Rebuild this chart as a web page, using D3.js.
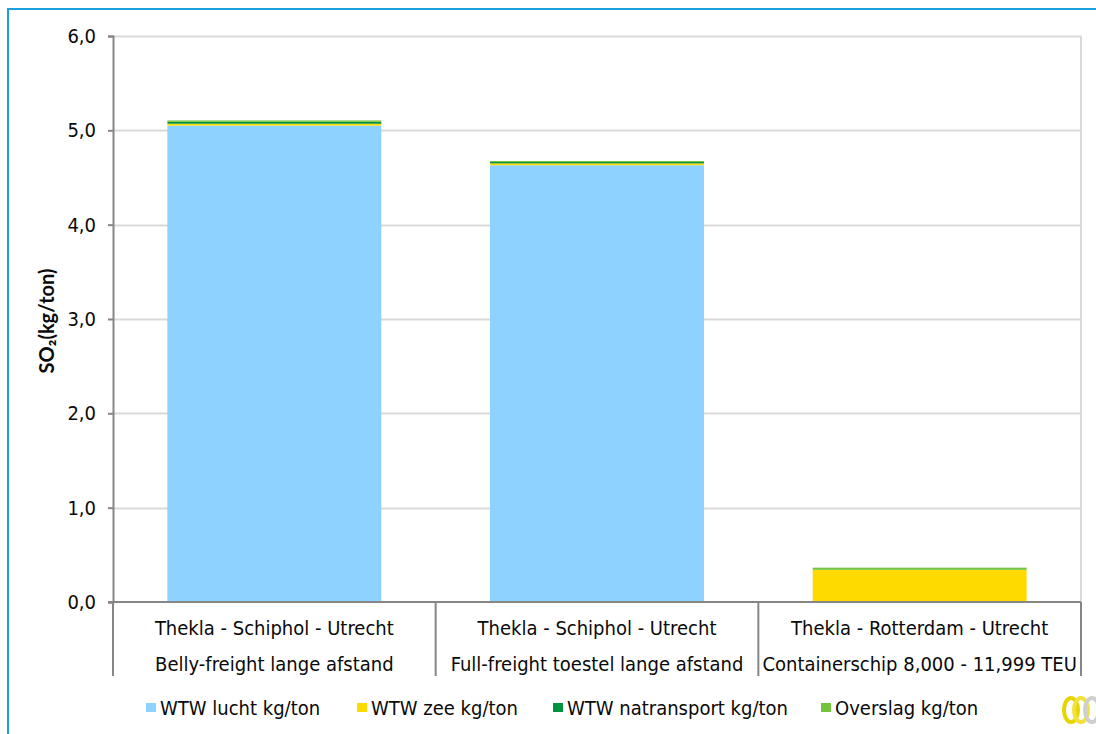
<!DOCTYPE html>
<html>
<head>
<meta charset="utf-8">
<script src="https://cdn.jsdelivr.net/npm/d3@7"></script>
<style>
  html, body { margin: 0; padding: 0; background: #fff; }
  svg { display: block; }
  .lbl { font-family: "DejaVu Sans Condensed", "DejaVu Sans", sans-serif; fill: #0a0a0a; }
</style>
</head>
<body>
<svg id="chart" width="1096" height="734"></svg>
<script>
// Categories (two-level axis: route on top, vehicle below)
const routes = ["Thekla - Schiphol - Utrecht", "Thekla - Schiphol - Utrecht", "Thekla - Rotterdam - Utrecht"];
const vehicles = ["Belly-freight lange afstand", "Full-freight toestel lange afstand", "Containerschip 8,000 - 11,999 TEU"];

// Stacked series (kg SO2 per ton)
const seriesNames = ["WTW lucht kg/ton", "WTW zee kg/ton", "WTW natransport kg/ton", "Overslag kg/ton"];
const luchtValues = [5.05, 4.63, 0.0];
const zeeValues = [0.02, 0.02, 0.34];
const natransportValues = [0.02, 0.015, 0.004];
const overslagValues = [0.015, 0.01, 0.02];

const yTicks = [0, 1, 2, 3, 4, 5, 6];

const colors = ["#8ed2ff", "#ffda00", "#00923f", "#74c43c"];

const svg = d3.select("#chart");
const W = 1096, H = 734;
const plotLeft = 113, plotRight = 1081, plotTop = 36, plotBottom = 602;

// Outer frame
svg.append("rect").attr("x", 8).attr("y", 9).attr("width", W + 20).attr("height", H + 20)
  .attr("fill", "none").attr("stroke", "#1ea0e0").attr("stroke-width", 2);

const rows = vehicles.map((v, i) => ({
  key: v,
  route: routes[i],
  vals: [luchtValues[i], zeeValues[i], natransportValues[i], overslagValues[i]]
}));

const x = d3.scaleBand().domain(vehicles).range([plotLeft, plotRight])
  .paddingInner(0.337).paddingOuter(0.337 / 2);
const y = d3.scaleLinear().domain([0, 6]).range([plotBottom, plotTop]);

const locale = d3.formatLocale({ decimal: ",", thousands: ".", grouping: [3], currency: ["€", ""] });
const fmt = locale.format(".1f");

// Gridlines
svg.append("g").selectAll("line").data(yTicks.filter(t => t > 0)).join("line")
  .attr("x1", plotLeft).attr("x2", plotRight)
  .attr("y1", d => Math.round(y(d)) + 0.5).attr("y2", d => Math.round(y(d)) + 0.5)
  .attr("stroke", "#d9d9d9").attr("stroke-width", 2);
// Right border of plot area
svg.append("line").attr("x1", plotRight).attr("x2", plotRight).attr("y1", y(6)).attr("y2", plotBottom)
  .attr("stroke", "#d9d9d9").attr("stroke-width", 2);

// Stacked bars
const stack = d3.stack().keys([0, 1, 2, 3]).value((d, k) => d.vals[k]);
const layers = stack(rows);
svg.append("g").selectAll("g").data(layers).join("g")
  .attr("fill", (d, i) => colors[i])
  .selectAll("rect").data(d => d).join("rect")
  .attr("x", d => x(d.data.key))
  .attr("width", x.bandwidth())
  .attr("y", d => y(d[1]))
  .attr("height", d => Math.max(0, y(d[0]) - y(d[1])));

// Y axis
const yAxis = d3.axisLeft(y).tickValues(yTicks).tickFormat(fmt).tickSize(5).tickPadding(12);
const gy = svg.append("g").attr("transform", `translate(${plotLeft},0)`).call(yAxis);
gy.select(".domain").attr("stroke", "#868686").attr("stroke-width", 2);
gy.selectAll(".tick line").attr("stroke", "#868686").attr("stroke-width", 2);
gy.selectAll(".tick text").attr("class", "lbl").style("font-size", "20px").attr("fill", "#0a0a0a");

// Category axis line and separators
svg.append("line").attr("x1", plotLeft - 5).attr("x2", plotRight).attr("y1", plotBottom).attr("y2", plotBottom)
  .attr("stroke", "#868686").attr("stroke-width", 2);
const step = x.step();
const seps = d3.range(vehicles.length + 1).map(i => plotLeft + i * step);
svg.append("g").selectAll("line").data(seps).join("line")
  .attr("x1", d => d).attr("x2", d => d).attr("y1", plotBottom).attr("y2", 676)
  .attr("stroke", "#868686").attr("stroke-width", 2);

const catG = svg.append("g").selectAll("g").data(rows).join("g")
  .attr("transform", d => `translate(${x(d.key) + x.bandwidth() / 2},0)`);
catG.append("text").attr("class", "lbl").attr("y", 635).attr("text-anchor", "middle")
  .style("font-size", "20px").text(d => d.route);
catG.append("text").attr("class", "lbl").attr("y", 671).attr("text-anchor", "middle")
  .style("font-size", "20px").text(d => d.key);

// Y axis title
svg.append("text")
  .attr("transform", "translate(54,321) rotate(-90)")
  .attr("text-anchor", "middle")
  .style("font-family", "Lato, 'Open Sans', sans-serif")
  .style("font-weight", "bold").style("font-size", "20px").attr("fill", "#0a0a0a")
  .text("SO₂(kg/ton)");

// Legend
const legendX = [146, 357, 553, 821];
const lg = svg.append("g").selectAll("g").data(seriesNames).join("g")
  .attr("transform", (d, i) => `translate(${legendX[i]},703)`);
lg.append("rect").attr("width", 10).attr("height", 9).attr("fill", (d, i) => colors[i]);
lg.append("text").attr("class", "lbl").attr("x", 14).attr("y", 12)
  .style("font-size", "20px").text(d => d);

// Corner logo
const logo = svg.append("g").attr("transform", "translate(1079,710)");
logo.append("ellipse").attr("cx", -8).attr("cy", 0).attr("rx", 7).attr("ry", 12)
  .attr("fill", "none").attr("stroke", "#e8d400").attr("stroke-width", 4);
logo.append("ellipse").attr("cx", 2).attr("cy", 0).attr("rx", 7).attr("ry", 12)
  .attr("fill", "none").attr("stroke", "#f2e23a").attr("stroke-width", 4);
logo.append("ellipse").attr("cx", 13).attr("cy", 0).attr("rx", 7).attr("ry", 12)
  .attr("fill", "none").attr("stroke", "#cfcfcf").attr("stroke-width", 4);
</script>
</body>
</html>
